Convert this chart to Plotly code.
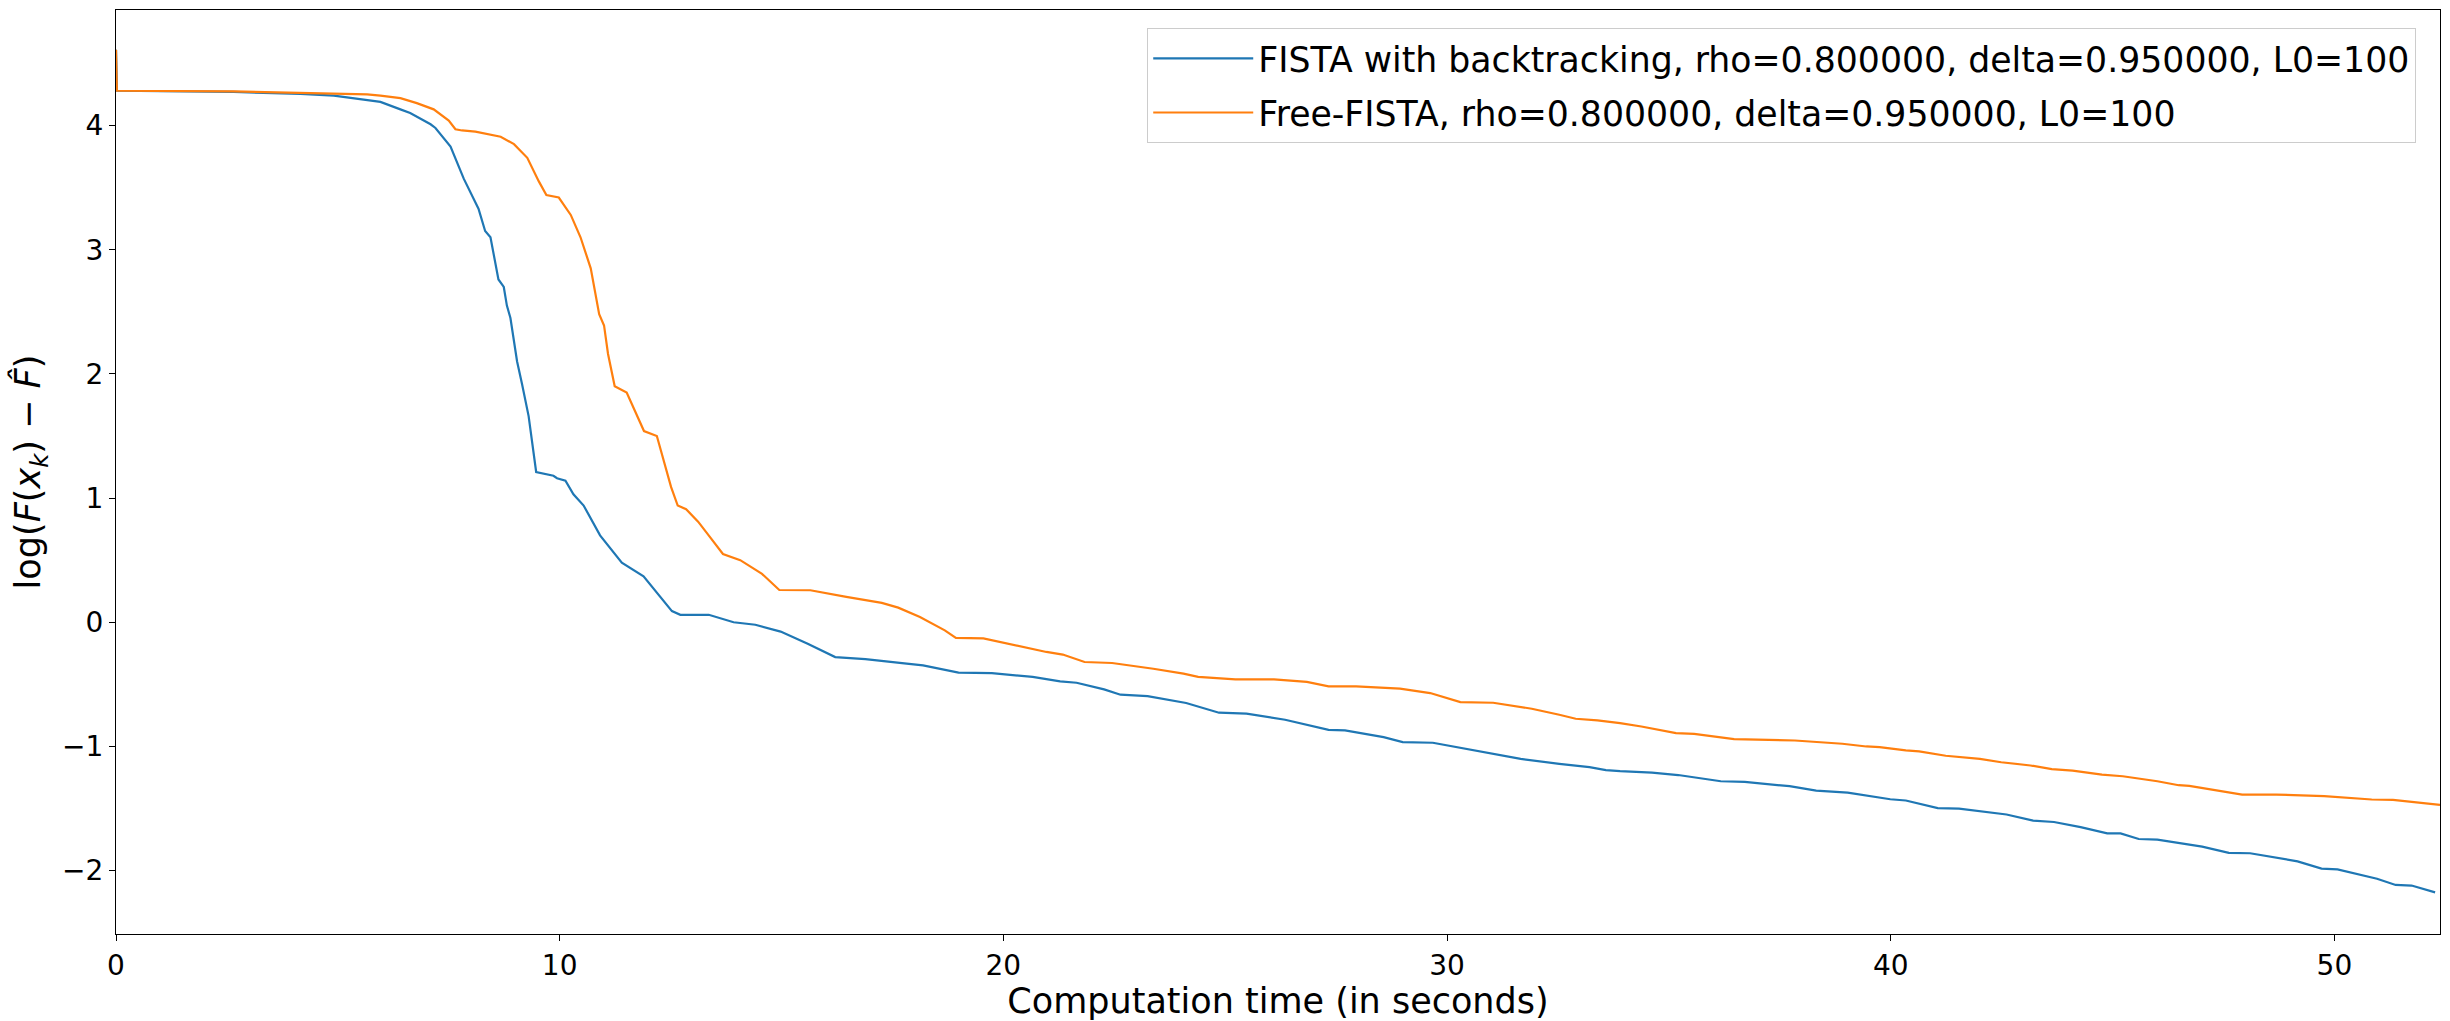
import plotly.graph_objects as go

# FISTA with backtracking (blue)
t_bt = [0, 0.02, 2.65, 4.16, 4.91, 5.66, 5.96, 6.41, 6.63, 7.09, 7.20, 7.54, 7.84,
        8.17, 8.32, 8.44, 8.62, 8.74, 8.81, 8.89, 9.04, 9.15, 9.30, 9.47, 9.86,
        9.94, 10.13, 10.31, 10.54, 10.91, 11.40, 11.89, 12.53, 12.72, 13.36, 13.92,
        14.41, 14.98, 15.59, 16.21, 16.89, 17.82, 18.19, 18.99, 19.74, 20.66, 21.28,
        21.65, 22.27, 22.64, 23.25, 24.12, 24.86, 25.48, 26.35, 27.33, 27.70, 28.57,
        29.00, 29.68, 30.42, 31.17, 31.66, 32.53, 33.21, 33.58, 33.90, 34.62, 35.21,
        36.17, 36.71, 37.72, 38.32, 39.03, 39.99, 40.34, 41.06, 41.54, 42.61, 43.21,
        43.68, 44.28, 44.88, 45.18, 45.59, 46.01, 47.02, 47.62, 48.10, 49.17, 49.71,
        50.07, 50.96, 51.38, 51.74, 52.27]
f_bt = [4.61, 4.28, 4.27, 4.255, 4.24, 4.20, 4.19, 4.13, 4.10, 4.01, 3.98, 3.83, 3.57,
        3.33, 3.15, 3.10, 2.76, 2.70, 2.55, 2.45, 2.10, 1.92, 1.66, 1.21, 1.18,
        1.16, 1.14, 1.03, 0.94, 0.70, 0.48, 0.37, 0.09, 0.06, 0.06, 0.00,
        -0.02, -0.075, -0.172, -0.28, -0.297, -0.333, -0.347, -0.406, -0.41, -0.44, -0.476,
        -0.487, -0.54, -0.583, -0.594, -0.65, -0.728, -0.736, -0.785, -0.866, -0.87, -0.925,
        -0.965, -0.97, -1.019, -1.073, -1.10, -1.14, -1.167, -1.19, -1.199, -1.21, -1.23,
        -1.28, -1.285, -1.32, -1.355, -1.371, -1.425, -1.435, -1.497, -1.50, -1.548, -1.597,
        -1.608, -1.65, -1.70, -1.70, -1.745, -1.75, -1.806, -1.857, -1.86, -1.925, -1.984,
        -1.99, -2.065, -2.115, -2.12, -2.175]

# Free-FISTA (orange)
t_free = [0, 0.02, 2.65, 4.16, 4.91, 5.66, 5.96, 6.41, 6.78, 7.16, 7.50, 7.65, 7.80,
          8.10, 8.67, 8.97, 9.27, 9.53, 9.70, 9.98, 10.25, 10.47, 10.70, 10.89, 11.00,
          11.09, 11.24, 11.51, 11.90, 12.19, 12.51, 12.66, 12.85, 13.12, 13.38, 13.68,
          14.07, 14.56, 14.95, 15.65, 16.46, 17.26, 17.63, 18.12, 18.68, 18.93, 19.55,
          20.41, 20.97, 21.34, 21.83, 22.45, 23.38, 24.06, 24.39, 25.23, 26.10, 26.84,
          27.33, 27.95, 28.94, 29.62, 30.30, 31.04, 31.91, 32.53, 32.90, 33.39, 33.90,
          34.38, 35.16, 35.57, 36.47, 37.84, 38.91, 39.45, 39.75, 40.34, 40.64, 41.24,
          42.01, 42.49, 43.15, 43.63, 44.10, 44.76, 45.23, 46.01, 46.49, 46.73, 47.26,
          47.92, 48.69, 49.77, 50.84, 51.32, 52.38]
f_free = [4.61, 4.28, 4.275, 4.265, 4.26, 4.25, 4.24, 4.22, 4.18, 4.13, 4.04, 3.97, 3.96,
          3.95, 3.91, 3.85, 3.74, 3.55, 3.44, 3.42, 3.28, 3.10, 2.85, 2.48, 2.39,
          2.16, 1.90, 1.85, 1.54, 1.50, 1.09, 0.94, 0.91, 0.81, 0.69, 0.55,
          0.50, 0.39, 0.26, 0.258, 0.204, 0.156, 0.118, 0.043, -0.065, -0.126, -0.13,
          -0.194, -0.239, -0.26, -0.32, -0.328, -0.374, -0.414, -0.44, -0.46, -0.46, -0.48,
          -0.516, -0.516, -0.535, -0.57, -0.643, -0.648, -0.696, -0.745, -0.777, -0.79, -0.812,
          -0.839, -0.893, -0.898, -0.941, -0.952, -0.978, -1.0, -1.005, -1.032, -1.04, -1.075,
          -1.10, -1.127, -1.153, -1.183, -1.194, -1.226, -1.24, -1.28, -1.312, -1.317, -1.35,
          -1.387, -1.387, -1.40, -1.427, -1.43, -1.47]

name_bt = "FISTA with backtracking, rho=0.800000, delta=0.950000, L0=100"
name_free = "Free-FISTA, rho=0.800000, delta=0.950000, L0=100"

fig = go.Figure()
fig.add_trace(go.Scatter(x=t_bt, y=f_bt, mode='lines', name=name_bt, legendgroup='bt',
                         line=dict(color='#1f77b4', width=2.2)))
fig.add_trace(go.Scatter(x=t_free, y=f_free, mode='lines', name=name_free, legendgroup='free',
                         line=dict(color='#ff7f0e', width=2.2)))

axis_common = dict(
    showline=True, mirror=True, linecolor='black', linewidth=1.3,
    showgrid=False, zeroline=False,
    ticks='outside', ticklen=6, tickwidth=1.3, tickcolor='black',
    tickfont=dict(size=28, color='black'),
)

fig.update_layout(
    width=2450, height=1021,
    margin=dict(l=116, r=10, t=10, b=87),
    paper_bgcolor='white', plot_bgcolor='white',
    font=dict(family='DejaVu Sans', color='black'),
    xaxis=dict(range=[0, 52.38], tickvals=[0, 10, 20, 30, 40, 50],
               title=dict(text='Computation time (in seconds)',
                          font=dict(size=35), standoff=0),
               **axis_common),
    yaxis=dict(range=[-2.51, 4.93], tickvals=[-2, -1, 0, 1, 2, 3, 4],
               ticktext=['\u22122', '\u22121', '0', '1', '2', '3', '4'],
               title=dict(text='log(<i>F</i>(<i>x</i><sub><i>k</i></sub>) \u2212 <i>F\u0302</i>)',
                          font=dict(size=35), standoff=10),
               **axis_common),
    legend=dict(x=0.4436, y=0.9805, xanchor='left', yanchor='top',
                bgcolor='rgba(255,255,255,0.8)', bordercolor='#cccccc', borderwidth=1.3,
                font=dict(size=34.7), itemwidth=100, tracegroupgap=6),
    showlegend=True,
)

fig.write_html("out.html", config={'displayModeBar': False},
               post_script="document.body.style.margin='0';")
